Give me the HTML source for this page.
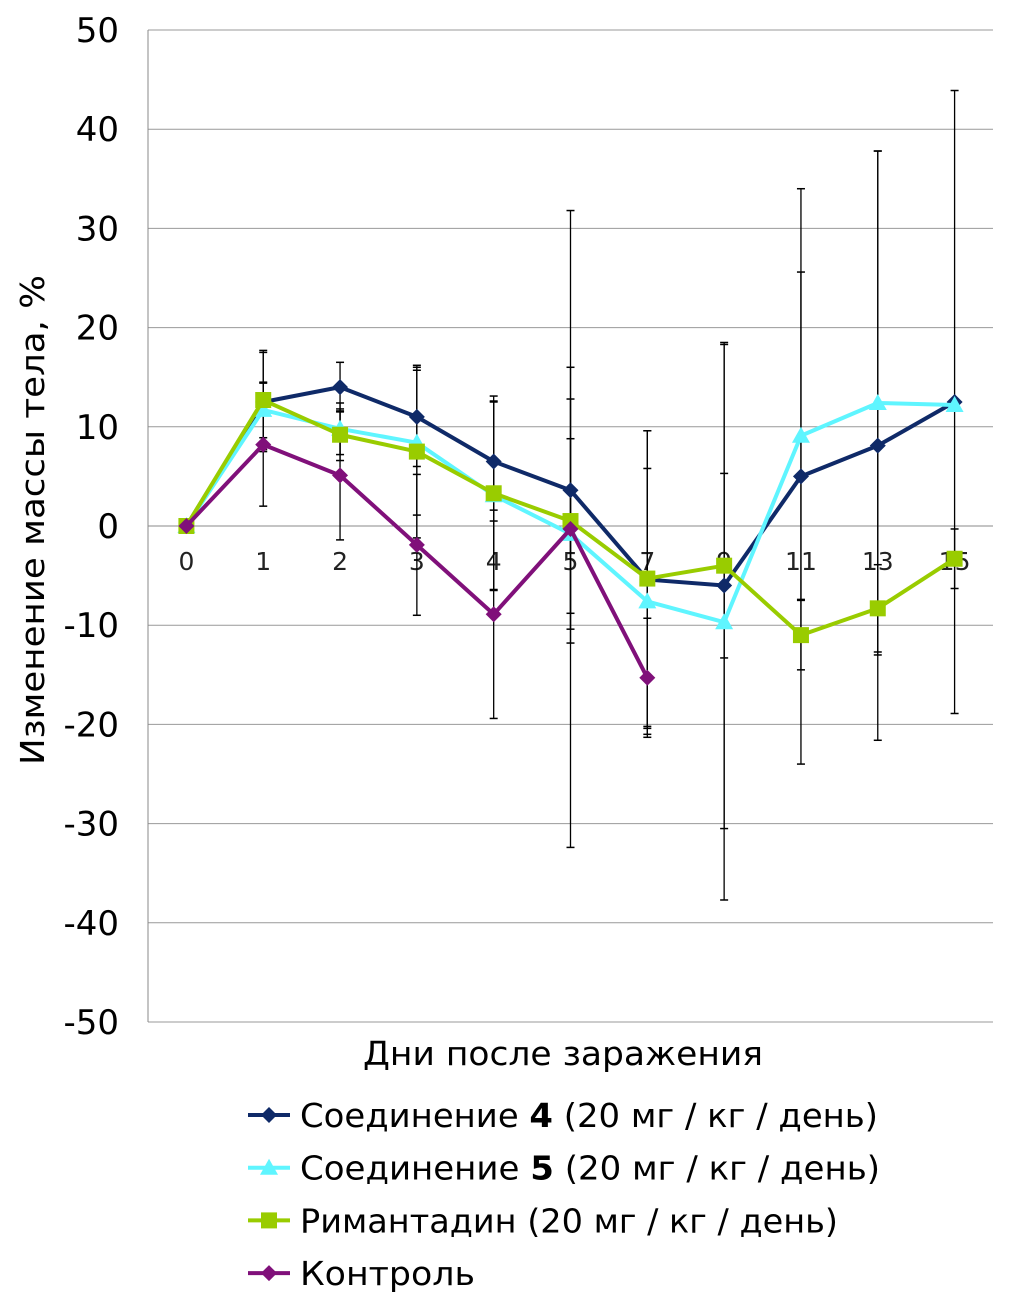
<!DOCTYPE html>
<html><head><meta charset="utf-8"><style>
body{margin:0;background:#fff;}
svg text{font-family:"DejaVu Sans","Liberation Sans",sans-serif;}
</style></head><body>
<svg id="c" width="1012" height="1303" xmlns="http://www.w3.org/2000/svg"></svg>
<script>
const categories=["0","1","2","3","4","5","7","9","11","13","15"];
const yTicks=[50,40,30,20,10,0,-10,-20,-30,-40,-50];
const comp4=[0,12.5,14,11,6.5,3.6,-5.4,-6,5,8.1,12.5];
const comp4Err=[0,5,2.5,5,6,12.4,15,24.5,29,29.7,31.4];
const comp5=[0,11.7,9.8,8.4,3.1,-0.8,-7.6,-9.7,9.1,12.4,12.2];
const comp5Err=[0,2.8,2.6,7.3,9.5,9.6,13.4,28,16.5,25.4,0];
const riman=[0,12.7,9.2,7.5,3.3,0.5,-5.3,-4,-11,-8.3,-3.3];
const rimanErr=[0,5,2.6,8.7,9.8,12.3,14.9,9.3,3.5,4.4,3];
const control=[0,8.2,5.1,-1.9,-8.9,-0.3,-15.3];
const controlErr=[0,6.2,6.5,7.1,10.5,32.1,6];
const NS="http://www.w3.org/2000/svg";
const svg=document.getElementById('c');
const L=148,R=993,T=30,B=1022;
const y=v=>T+(50-v)/100*(B-T);
const x=i=>L+(i+0.5)*(R-L)/categories.length;
function el(t,a,p){const e=document.createElementNS(NS,t);for(const k in a)e.setAttribute(k,a[k]);(p||svg).appendChild(e);return e;}
yTicks.forEach(v=>{
 const g=el('line',{x1:L,x2:R,y1:y(v),y2:y(v),stroke:v===0?'#888':'#999','stroke-width':1});
 
 
 const t=el('text',{x:119,y:y(v)+12,'text-anchor':'end','font-size':34,fill:'#000'});
 t.textContent=v;
 
 
});
const ax=el('line',{x1:L,x2:L,y1:T,y2:B,stroke:'#888','stroke-width':1});


categories.forEach((c,i)=>{
 const t=el('text',{x:x(i),y:y(0)+44,'text-anchor':'middle','font-size':25,fill:'#222'});
 t.textContent=c;
 
 
});
const series=[
 {name:'compound-4',d:comp4,e:comp4Err,c:'#0f2a68',m:'diamond'},
 {name:'compound-5',d:comp5,e:comp5Err,c:'#5ff5ff',m:'tri'},
 {name:'rimantadine',d:riman,e:rimanErr,c:'#99cc00',m:'sq'},
 {name:'control',d:control,e:controlErr,c:'#80107a',m:'diamond'}];
function marker(m,cx,cy,c,p){
 let e;
 if(m==='diamond')e=el('polygon',{points:`${cx},${cy-8} ${cx+8},${cy} ${cx},${cy+8} ${cx-8},${cy}`,fill:c},p);
 else if(m==='sq')e=el('rect',{x:cx-8,y:cy-8,width:16,height:16,fill:c},p);
 else e=el('polygon',{points:`${cx},${cy-9} ${cx+9},${cy+7} ${cx-9},${cy+7}`,fill:c},p);
 return e;
}
series.forEach(s=>{
 const g=el('g',{});
 
 
 s.d.forEach((v,i)=>{if(!s.e[i])return;
  el('line',{x1:x(i),x2:x(i),y1:y(v+s.e[i]),y2:y(v-s.e[i]),stroke:'#000','stroke-width':1.3},g);
  [v+s.e[i],v-s.e[i]].forEach(w=>el('line',{x1:x(i)-4,x2:x(i)+4,y1:y(w),y2:y(w),stroke:'#000','stroke-width':1.5},g));
 });
});
series.forEach(s=>{
 const g=el('g',{});
 
 
 el('polyline',{points:s.d.map((v,i)=>x(i)+','+y(v)).join(' '),fill:'none',stroke:s.c,'stroke-width':4,'stroke-linejoin':'round'},g);
 s.d.forEach((v,i)=>marker(s.m,x(i),y(v),s.c,g));
});
const yt=el('text',{x:0,y:0,'font-size':33,'text-anchor':'middle',textLength:490,lengthAdjust:'spacingAndGlyphs',transform:`translate(44,520) rotate(-90)`});
yt.textContent='Изменение массы тела, %';


const xt=el('text',{x:363,y:1065,'font-size':33,textLength:400,lengthAdjust:'spacingAndGlyphs'});
xt.textContent='Дни после заражения';


const labels=[['Соединение ','4',' (20 мг / кг / день)'],['Соединение ','5',' (20 мг / кг / день)'],['Римантадин (20 мг / кг / день)','',''],['Контроль','','']];
const legendW=[578,580,538,175];
series.forEach((s,i)=>{
 const ly=1115+i*52.7;
 const g=el('g',{});
 
 
 el('line',{x1:248,x2:290,y1:ly,y2:ly,stroke:s.c,'stroke-width':4},g);
 marker(s.m,269,ly,s.c,g);
 const t=el('text',{x:300,y:ly+12,'font-size':33,textLength:legendW[i],lengthAdjust:'spacingAndGlyphs'},g);
 t.appendChild(document.createTextNode(labels[i][0]));
 if(labels[i][1]){const b=el('tspan',{'font-weight':'bold'},t);b.textContent=labels[i][1];t.appendChild(document.createTextNode(labels[i][2]));}
});
</script>
</body></html>
